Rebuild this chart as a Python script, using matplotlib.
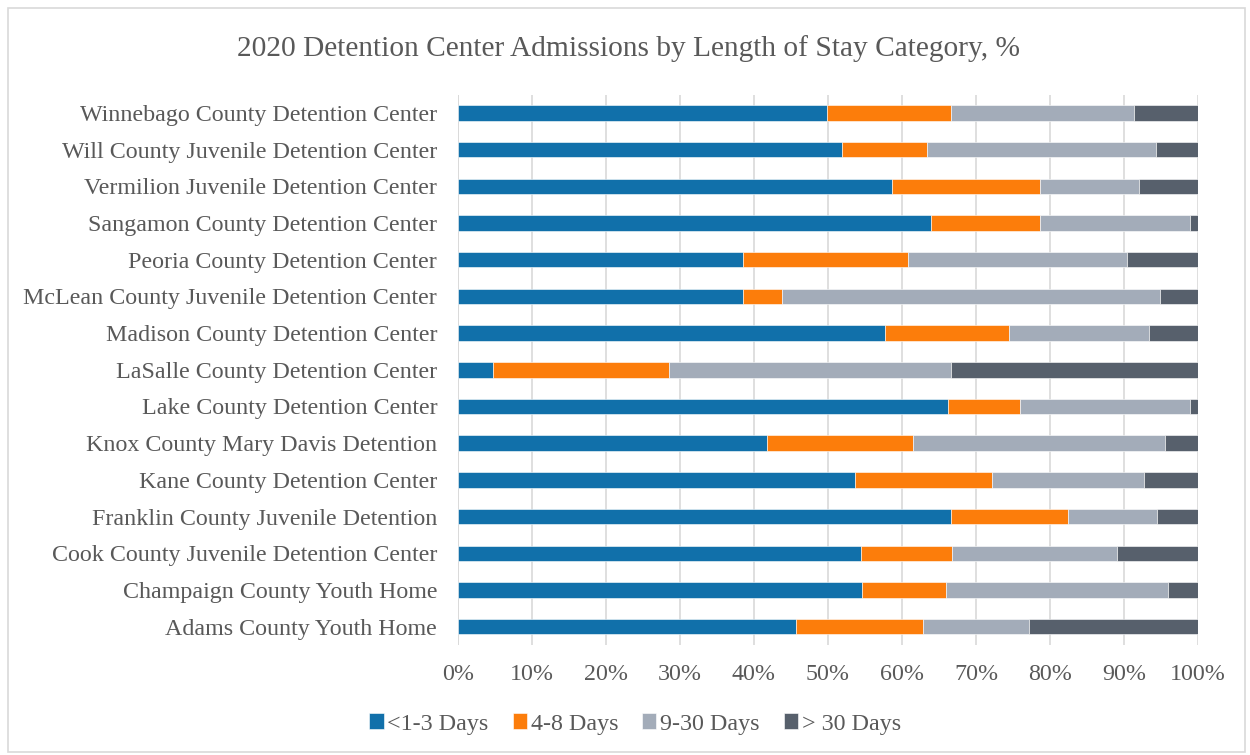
import matplotlib
matplotlib.use("Agg")
import matplotlib.pyplot as plt
from matplotlib.patches import Rectangle
import numpy as np

centers = [
    "Winnebago County Detention Center",
    "Will County Juvenile Detention Center",
    "Vermilion Juvenile Detention Center",
    "Sangamon County Detention Center",
    "Peoria County Detention Center",
    "McLean County Juvenile Detention Center",
    "Madison County Detention Center",
    "LaSalle County Detention Center",
    "Lake County Detention Center",
    "Knox County Mary Davis Detention",
    "Kane County Detention Center",
    "Franklin County Juvenile Detention",
    "Cook County Juvenile Detention Center",
    "Champaign County Youth Home",
    "Adams County Youth Home",
]
days_1_3 = [49.9, 51.9, 58.6, 63.9, 38.5, 38.5, 57.7, 4.7, 66.2, 41.7, 53.6, 66.6, 54.4, 54.6, 45.7]
days_4_8 = [16.7, 11.5, 20.1, 14.7, 22.3, 5.3, 16.7, 23.8, 9.7, 19.8, 18.6, 15.8, 12.4, 11.3, 17.1]
days_9_30 = [24.8, 30.9, 13.3, 20.35, 29.6, 51.0, 19.0, 38.1, 23.0, 34.0, 20.5, 12.1, 22.3, 30.0, 14.3]
days_30p = [8.6, 5.7, 8.0, 1.05, 9.6, 5.2, 6.6, 33.4, 1.1, 4.5, 7.3, 5.5, 10.9, 4.1, 22.9]

series_names = ["<1-3 Days", "4-8 Days", "9-30 Days", "> 30 Days"]
colors = ["#1170aa", "#fc7d0b", "#a3acb9", "#57606c"]
tick_values = [0, 10, 20, 30, 40, 50, 60, 70, 80, 90, 100]

plt.rcParams['font.family'] = ['Liberation Serif', 'DejaVu Serif']
text_color = "#595959"
fs = 17.3

fig = plt.figure(figsize=(12.5, 7.55), dpi=100)
fig.patches.append(Rectangle((0.006, 0.004), 0.990, 0.985, transform=fig.transFigure,
                             fill=False, edgecolor="#d9d9d9", linewidth=1.2))
ax = fig.add_axes([0.3664, 0.1457, 0.5920, 0.7290])

data = np.array([days_1_3, days_4_8, days_9_30, days_30p])
totals = data.sum(axis=0)
data = data / totals * 100

y = np.arange(len(centers))
left = np.zeros(len(centers))
handles = []
for vals, name, c in zip(data, series_names, colors):
    h = ax.barh(y, vals, left=left, height=0.42, color=c, label=name,
                edgecolor="white", linewidth=0.4, zorder=3)
    handles.append(h)
    left += vals

ax.set_ylim(len(centers) - 0.5, -0.5)
ax.set_xlim(0, 100)
ax.set_yticks(y)
ax.set_yticklabels(centers, fontsize=fs, color=text_color)
ax.set_xticks(tick_values)
ax.set_xticklabels([f"{v}%" for v in tick_values], fontsize=fs, color=text_color)
ax.tick_params(axis='y', length=0, pad=15)
ax.tick_params(axis='x', length=0, pad=14)
ax.grid(axis='x', color="#d9d9d9", linewidth=1.2, zorder=0)
ax.set_axisbelow(True)
for s in ax.spines.values():
    s.set_visible(False)
ax.axvline(0, color="#d9d9d9", linewidth=1.2, zorder=1)

fig.text(0.503, 0.936, "2020 Detention Center Admissions by Length of Stay Category, %",
         ha='center', va='center', fontsize=21.2, color=text_color)

leg = fig.legend(handles=handles, labels=series_names, loc='center', bbox_to_anchor=(0.508, 0.041),
                 ncol=4, frameon=False, fontsize=fs, handlelength=0.6, handleheight=0.6,
                 handletextpad=0.15, columnspacing=1.0)
for t in leg.get_texts():
    t.set_color(text_color)

fig.savefig("out.png", dpi=100, facecolor="white")
